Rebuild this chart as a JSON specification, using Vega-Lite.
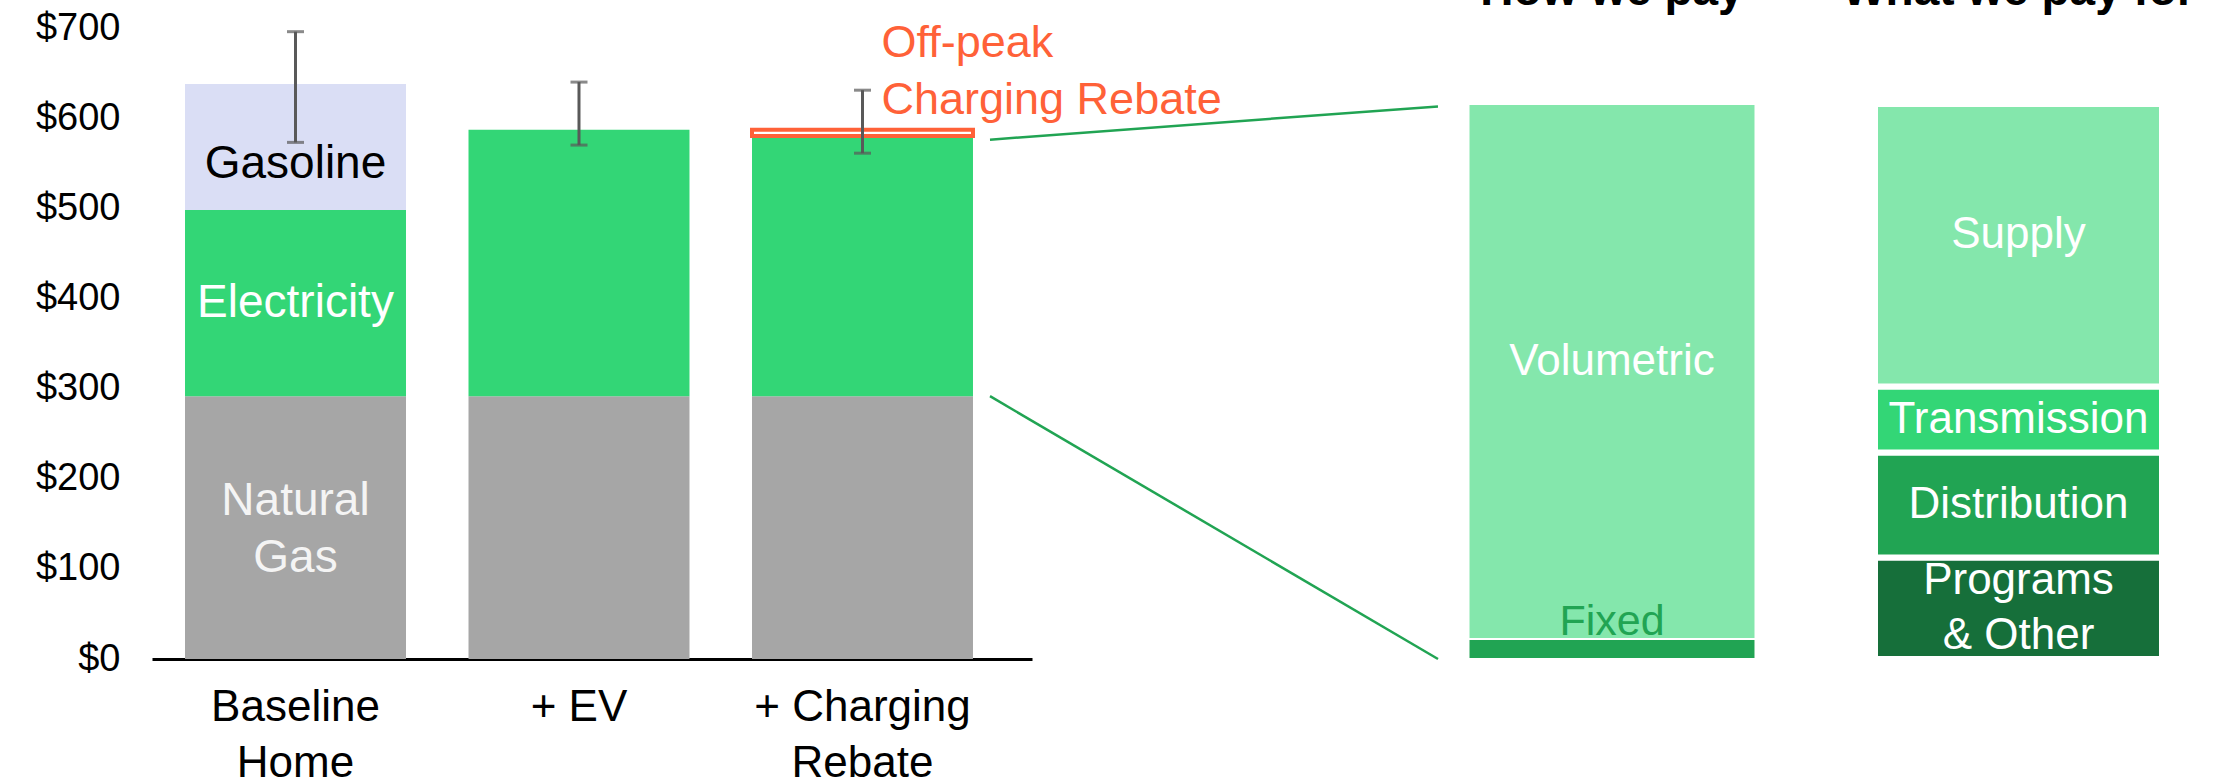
{
  "$schema": "https://vega.github.io/schema/vega-lite/v6.json",
  "width": 2083,
  "height": 659,
  "autosize": {"type": "none"},
  "padding": {"left": 152, "top": 0, "right": 0, "bottom": 125},
  "background": "#ffffff",
  "config": {"view": {"stroke": null}, "font": "Liberation Sans"},
  "datasets": {
    "spend": [
      {"scenario": "Baseline Home", "fuel": "Natural Gas", "cost": 292, "ord": 1},
      {"scenario": "Baseline Home", "fuel": "Electricity", "cost": 207, "ord": 2},
      {"scenario": "Baseline Home", "fuel": "Gasoline", "cost": 140, "ord": 3},
      {"scenario": "+ EV", "fuel": "Natural Gas", "cost": 292, "ord": 1},
      {"scenario": "+ EV", "fuel": "Electricity", "cost": 296, "ord": 2},
      {"scenario": "+ Charging Rebate", "fuel": "Natural Gas", "cost": 292, "ord": 1},
      {"scenario": "+ Charging Rebate", "fuel": "Electricity", "cost": 289, "ord": 2},
      {"scenario": "+ Charging Rebate", "fuel": "Off-peak Charging Rebate", "cost": 7, "ord": 3}
    ],
    "range": [
      {"scenario": "Baseline Home", "low": 574, "high": 697},
      {"scenario": "+ EV", "low": 571, "high": 641},
      {"scenario": "+ Charging Rebate", "low": 562, "high": 632}
    ],
    "bill": [
      {"panel": "How we pay", "part": "Fixed", "share": 3.6, "ord": 1},
      {"panel": "How we pay", "part": "Volumetric", "share": 96.4, "ord": 2},
      {"panel": "What we pay for", "part": "Programs\n& Other", "share": 18.3, "ord": 1},
      {"panel": "What we pay for", "part": "Distribution", "share": 18.9, "ord": 2},
      {"panel": "What we pay for", "part": "Transmission", "share": 11.9, "ord": 3},
      {"panel": "What we pay for", "part": "Supply", "share": 50.9, "ord": 4}
    ],
    "notes": [
      {"note": "Off-peak\nCharging Rebate"}
    ]
  },
  "layer": [
    {
      "layer": [
        {
          "data": {"name": "spend"},
          "transform": [
            {"stack": "cost", "groupby": ["scenario"], "sort": [{"field": "ord", "order": "ascending"}], "as": ["c0", "c1"]}
          ],
          "mark": {"type": "bar"},
          "encoding": {
            "x": {
              "field": "scenario", "type": "nominal", "title": null,
              "sort": ["Baseline Home", "+ EV", "+ Charging Rebate"],
              "scale": {"domain": ["Baseline Home", "+ EV", "+ Charging Rebate"], "range": [0, 880], "paddingInner": 0.2205, "paddingOuter": 0.1623, "align": 0.3587},
              "axis": {
                "orient": "bottom", "domain": true, "domainColor": "#000000", "domainWidth": 3,
                "ticks": false, "tickSize": 0, "grid": false,
                "labelPadding": 26, "labelFontSize": 44, "labelColor": "#000000", "labelLineHeight": 56,
                "labelAngle": 0, "labelLimit": 0, "labelOverlap": false, "labelBound": false,
                "labelExpr": "datum.value === 'Baseline Home' ? ['Baseline', 'Home'] : datum.value === '+ Charging Rebate' ? ['+ Charging', 'Rebate'] : datum.label"
              }
            },
            "y": {
              "field": "c1", "type": "quantitative", "title": null,
              "scale": {"domain": [0, 732.2], "nice": false, "zero": true},
              "axis": {
                "orient": "left", "values": [0, 100, 200, 300, 400, 500, 600, 700], "format": "$,.0f",
                "domain": false, "ticks": false, "tickSize": 0, "grid": false,
                "labelPadding": 32, "labelFontSize": 38, "labelColor": "#000000"
              }
            },
            "y2": {"field": "c0"},
            "fill": {
              "field": "fuel", "type": "nominal", "legend": null,
              "scale": {"domain": ["Natural Gas", "Electricity", "Gasoline", "Off-peak Charging Rebate"], "range": ["#A6A6A6", "#33D676", "#DADEF5", "#FFFFFF"]}
            },
            "stroke": {"condition": {"test": "datum.fuel === 'Off-peak Charging Rebate'", "value": "#FF6138"}, "value": "transparent"},
            "strokeWidth": {"condition": {"test": "datum.fuel === 'Off-peak Charging Rebate'", "value": 4}, "value": 0}
          }
        },
        {
          "data": {"name": "spend"},
          "transform": [
            {"stack": "cost", "groupby": ["scenario"], "sort": [{"field": "ord", "order": "ascending"}], "as": ["c0", "c1"]},
            {"calculate": "(datum.c0 + datum.c1) / 2", "as": "cmid"},
            {"filter": "datum.scenario === 'Baseline Home' && datum.fuel === 'Electricity'"}
          ],
          "mark": {"type": "text", "fontSize": 46, "color": "#FFFFFF", "baseline": "middle"},
          "encoding": {
            "x": {"field": "scenario", "type": "nominal"},
            "y": {"field": "cmid", "type": "quantitative"},
            "text": {"field": "fuel"}
          }
        },
        {
          "data": {"name": "spend"},
          "transform": [
            {"stack": "cost", "groupby": ["scenario"], "sort": [{"field": "ord", "order": "ascending"}], "as": ["c0", "c1"]},
            {"calculate": "(datum.c0 + datum.c1) / 2", "as": "cmid"},
            {"filter": "datum.scenario === 'Baseline Home' && datum.fuel === 'Natural Gas'"}
          ],
          "mark": {"type": "text", "fontSize": 46, "color": "#F4F4F4", "baseline": "middle", "lineBreak": " ", "lineHeight": 57, "dy": -27},
          "encoding": {
            "x": {"field": "scenario", "type": "nominal"},
            "y": {"field": "cmid", "type": "quantitative"},
            "text": {"field": "fuel"}
          }
        },
        {
          "data": {"name": "spend"},
          "transform": [
            {"stack": "cost", "groupby": ["scenario"], "sort": [{"field": "ord", "order": "ascending"}], "as": ["c0", "c1"]},
            {"calculate": "(datum.c0 + datum.c1) / 2", "as": "cmid"},
            {"filter": "datum.fuel === 'Gasoline'"}
          ],
          "mark": {"type": "text", "fontSize": 46, "color": "#000000", "baseline": "middle", "dy": 17},
          "encoding": {
            "x": {"field": "scenario", "type": "nominal"},
            "y": {"field": "cmid", "type": "quantitative"},
            "text": {"field": "fuel"}
          }
        },
        {
          "data": {"name": "range"},
          "mark": {"type": "rule", "color": "#595959", "strokeWidth": 3},
          "encoding": {
            "x": {"field": "scenario", "type": "nominal"},
            "y": {"field": "low", "type": "quantitative"},
            "y2": {"field": "high"}
          }
        },
        {
          "data": {"name": "range"},
          "mark": {"type": "tick", "color": "#595959", "thickness": 3, "size": 17, "orient": "horizontal"},
          "encoding": {
            "x": {"field": "scenario", "type": "nominal"},
            "y": {"field": "high", "type": "quantitative"}
          }
        },
        {
          "data": {"name": "range"},
          "mark": {"type": "tick", "color": "#595959", "thickness": 3, "size": 17, "orient": "horizontal"},
          "encoding": {
            "x": {"field": "scenario", "type": "nominal"},
            "y": {"field": "low", "type": "quantitative"}
          }
        },
        {
          "data": {"name": "notes"},
          "mark": {"type": "text", "align": "left", "baseline": "middle", "dx": 19, "fontSize": 45, "lineBreak": "\n", "lineHeight": 57, "color": "#FF6138"},
          "encoding": {
            "x": {"datum": "+ Charging Rebate", "type": "nominal"},
            "y": {"datum": 684.4, "type": "quantitative"},
            "text": {"field": "note"}
          }
        }
      ]
    },
    {
      "data": {"values": [{}]},
      "layer": [
        {
          "mark": {"type": "rule", "color": "#21A453", "strokeWidth": 2.5},
          "encoding": {
            "x": {"datum": 0, "type": "quantitative", "scale": {"domain": [0, 1], "range": [838, 1286]}, "axis": null},
            "x2": {"datum": 1},
            "y": {"datum": 577, "type": "quantitative", "scale": {"domain": [0, 732.2], "nice": false}, "axis": null},
            "y2": {"datum": 614}
          }
        },
        {
          "mark": {"type": "rule", "color": "#21A453", "strokeWidth": 2.5},
          "encoding": {
            "x": {"datum": 0, "type": "quantitative"},
            "x2": {"datum": 1},
            "y": {"datum": 292, "type": "quantitative"},
            "y2": {"datum": 0}
          }
        }
      ]
    },
    {
      "data": {"name": "bill"},
      "transform": [
        {"stack": "share", "groupby": ["panel"], "sort": [{"field": "ord", "order": "ascending"}], "as": ["s0", "s1"]},
        {"calculate": "(datum.s0 + datum.s1) / 2", "as": "smid"}
      ],
      "encoding": {
        "x": {
          "field": "panel", "type": "nominal", "title": null,
          "scale": {"domain": ["How we pay", "What we pay for"], "range": [1247.4, 2079.1], "paddingInner": 0.294, "paddingOuter": 0.17},
          "axis": {
            "orient": "top", "domain": false, "ticks": false, "tickSize": 0, "grid": false,
            "labelPadding": -4, "labelBaseline": "alphabetic", "labelFontSize": 46, "labelFontWeight": "bold",
            "labelColor": "#000000", "labelAngle": 0, "labelLimit": 0, "labelOverlap": false, "labelBound": false
          }
        }
      },
      "layer": [
        {
          "transform": [{"filter": "datum.panel === 'How we pay'"}],
          "mark": {"type": "bar", "stroke": "#FFFFFF", "strokeWidth": 2},
          "encoding": {
            "y": {"field": "s1", "type": "quantitative", "scale": {"domain": [0, 118.74], "nice": false}, "axis": null},
            "y2": {"field": "s0"},
            "fill": {
              "field": "part", "type": "nominal", "legend": null,
              "scale": {"domain": ["Fixed", "Volumetric", "Programs\n& Other", "Distribution", "Transmission", "Supply"], "range": ["#21A453", "#84E7AC", "#166F3A", "#21A453", "#33D676", "#84E7AC"]}
            }
          }
        },
        {
          "transform": [{"filter": "datum.panel === 'What we pay for'"}],
          "mark": {"type": "bar", "stroke": "#FFFFFF", "strokeWidth": 6},
          "encoding": {
            "y": {"field": "s1", "type": "quantitative"},
            "y2": {"field": "s0"},
            "fill": {"field": "part", "type": "nominal", "legend": null}
          }
        },
        {
          "transform": [{"filter": "datum.part === 'Transmission' || datum.part === 'Distribution'"}],
          "mark": {"type": "text", "fontSize": 44, "color": "#FFFFFF", "baseline": "middle"},
          "encoding": {
            "y": {"field": "smid", "type": "quantitative"},
            "text": {"field": "part"}
          }
        },
        {
          "transform": [{"filter": "datum.ord === 1 && datum.panel === 'What we pay for'"}],
          "mark": {"type": "text", "fontSize": 44, "color": "#FFFFFF", "baseline": "middle", "lineBreak": "\n", "lineHeight": 55, "dy": -27},
          "encoding": {
            "y": {"field": "smid", "type": "quantitative"},
            "text": {"field": "part"}
          }
        },
        {
          "transform": [{"filter": "datum.part === 'Volumetric' || datum.part === 'Supply'"}],
          "mark": {"type": "text", "fontSize": 44, "color": "#FFFFFF", "baseline": "middle", "dy": -10},
          "encoding": {
            "y": {"field": "smid", "type": "quantitative"},
            "text": {"field": "part"}
          }
        },
        {
          "transform": [{"filter": "datum.part === 'Fixed'"}],
          "mark": {"type": "text", "fontSize": 43, "color": "#21A453", "baseline": "alphabetic", "dy": -4},
          "encoding": {
            "y": {"field": "s1", "type": "quantitative"},
            "text": {"field": "part"}
          }
        }
      ]
    }
  ],
  "resolve": {"scale": {"x": "independent", "y": "independent", "fill": "independent"}}
}
